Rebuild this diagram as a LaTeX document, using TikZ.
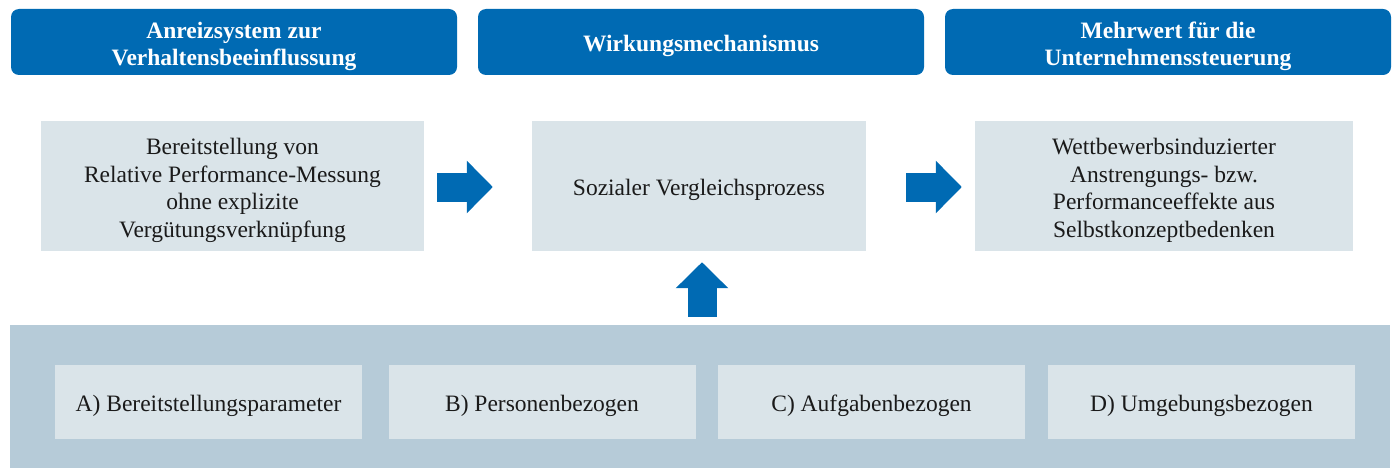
\documentclass[tikz,border=0pt]{standalone}
\usepackage{fontspec}
\setmainfont{Liberation Serif}
\usetikzlibrary{arrows.meta,calc}
\definecolor{hblue}{HTML}{006AB3}
\definecolor{lbox}{HTML}{DAE4E9}
\definecolor{panel}{HTML}{B6CBD8}
\definecolor{txt}{HTML}{1A1A1A}
\begin{document}
\begin{tikzpicture}[x=1pt,y=-1pt,
  header/.style={fill=hblue,rounded corners=8pt,minimum width=446pt,minimum height=66pt,inner sep=0pt},
  htext/.style={text=white,font=\fontsize{23.5}{27}\selectfont\bfseries,align=center,inner sep=0pt},
  midbox/.style={fill=lbox,minimum height=130pt,inner sep=0pt},
  mtext/.style={text=txt,font=\fontsize{23.5}{27.5}\selectfont,align=center,inner sep=0pt},
  botbox/.style={fill=lbox,minimum width=307pt,minimum height=74pt,inner sep=0pt},
  btext/.style={text=txt,font=\fontsize{23.5}{27}\selectfont,inner sep=0pt},
  bigarrow/.style={draw=hblue,line width=29pt,-{Triangle[length=26pt,width=51pt]},color=hblue}
]
\useasboundingbox (0,0) rectangle (1394,468);
\node[header] (h1) at (234,42) {};
\node[header] (h2) at (701,42) {};
\node[header] (h3) at (1168,42) {};
\node[htext] (h1t) at ($(h1.center)+(0,4)$) {Anreizsystem zur\\Verhaltensbeeinflussung};
\node[htext] (h2t) at ($(h2.center)+(0,4)$) {Wirkungsmechanismus};
\node[htext] (h3t) at ($(h3.center)+(0,4)$) {Mehrwert für die\\Unternehmenssteuerung};

\node[midbox,minimum width=383pt] (m1) at (232.5,186) {};
\node[midbox,minimum width=334pt] (m2) at (699,186) {};
\node[midbox,minimum width=378pt] (m3) at (1164,186) {};
\node[mtext] (m1t) at ($(m1.center)+(0,4.5)$) {Bereitstellung von\\Relative Performance-Messung\\ohne explizite\\Vergütungsverknüpfung};
\node[mtext] (m2t) at ($(m2.center)+(0,3.5)$) {Sozialer Vergleichsprozess};
\node[mtext] (m3t) at ($(m3.center)+(0,4.5)$) {Wettbewerbsinduzierter\\Anstrengungs- bzw.\\Performanceeffekte aus\\Selbstkonzeptbedenken};

\node[fill=panel,minimum width=1380pt,minimum height=143pt,inner sep=0pt] (p) at (700,396.5) {};
\node[botbox] (a) at (208.5,402) {};
\node[botbox] (b) at (542,402) {};
\node[botbox] (c) at (871.5,402) {};
\node[botbox] (d) at (1201.5,402) {};
\node[btext] (at) at ($(a.center)+(0,4)$) {A) Bereitstellungsparameter};
\node[btext] (bt) at ($(b.center)+(0,4)$) {B) Personenbezogen};
\node[btext] (ct) at ($(c.center)+(0,4)$) {C) Aufgabenbezogen};
\node[btext] (dt) at ($(d.center)+(0,4)$) {D) Umgebungsbezogen};

\coordinate (a1s) at ($(m1.east)+(13,1)$);
\coordinate (a1e) at ($(m2.west)+(-39,1)$);
\coordinate (a2s) at ($(m2.east)+(40,1)$);
\coordinate (a2e) at ($(m3.west)+(-13,1)$);
\coordinate (a3s) at ($(p.north)+(2,-8)$);
\coordinate (a3e) at ($(m2.south)+(3,11)$);
\draw[bigarrow] (a1s) -- (a1e);
\draw[bigarrow] (a2s) -- (a2e);
\draw[bigarrow] (a3s) -- (a3e);
\end{tikzpicture}
\end{document}
